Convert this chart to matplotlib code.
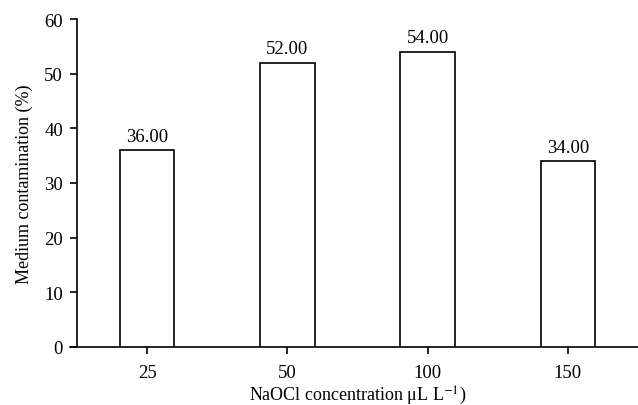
import matplotlib
matplotlib.use("Agg")
import matplotlib.pyplot as plt

plt.rcParams['font.family'] = ['Liberation Serif', 'DejaVu Serif']
plt.rcParams['mathtext.fontset'] = 'stix'

concentrations = ['25', '50', '100', '150']
contamination = [36.00, 52.00, 54.00, 34.00]

fig = plt.figure(figsize=(6.38, 4.06), dpi=100)
ax = fig.add_axes([0.1207, 0.1429, 0.8793, 0.8078])

x = range(len(concentrations))
bars = ax.bar(x, contamination, width=0.39, color='white', edgecolor='black', linewidth=1.2, zorder=3)

for i in x:
    ax.text(i, contamination[i] + 1.0, '%.2f' % contamination[i], ha='center', va='bottom', fontsize=13.5)

ax.set_xlim(-0.5, 3.5)
ax.set_ylim(0, 60)
ax.set_yticks(range(0, 61, 10))
ax.set_xticks(list(x))
ax.set_xticklabels(concentrations)

ax.spines['top'].set_visible(False)
ax.spines['right'].set_visible(False)
ax.spines['left'].set_linewidth(1.2)
ax.spines['bottom'].set_linewidth(1.2)
ax.spines['bottom'].set_bounds(-0.55, 3.5)
ax.tick_params(direction='out', length=5, width=1.2, labelsize=13.5)
ax.tick_params(axis='x', pad=7)
ax.tick_params(axis='y', pad=5)

ax.set_xlabel(r'NaOCl concentration μL L$^{-1}$)', fontsize=13, labelpad=2)
ax.set_ylabel('Medium contamination (%)', fontsize=13, labelpad=8)

plt.savefig('out.png', dpi=100)
